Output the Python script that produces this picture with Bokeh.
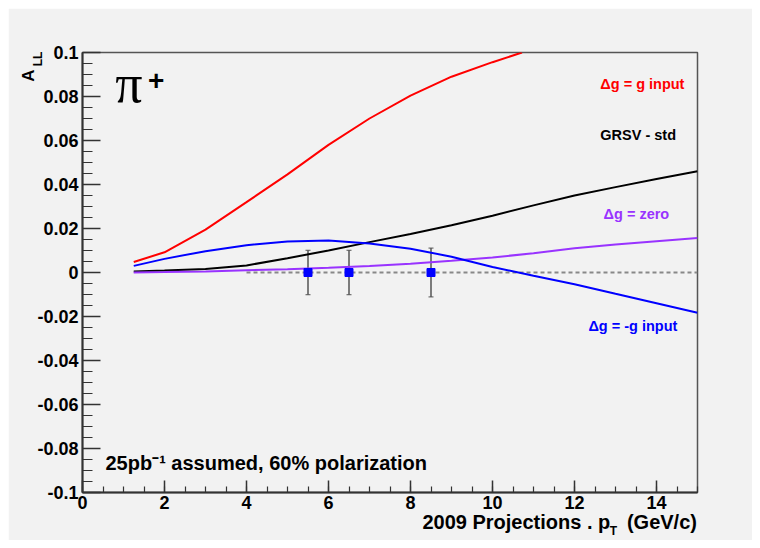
from bokeh.plotting import figure
from bokeh.models import (Range1d, FixedTicker, Label, ColumnDataSource, Whisker, TeeHead)
from bokeh.embed import file_html
from bokeh.resources import INLINE
import numpy as np

# ---------------- data ----------------
red_x = [1.25, 2, 3, 4, 5, 6, 7, 8, 9, 10, 10.72]
red_y = [0.0048, 0.0092, 0.0195, 0.032, 0.0446, 0.058, 0.070, 0.0804, 0.089, 0.0956, 0.1]

pt = [1.25, 2, 3, 4, 5, 6, 7, 8, 9, 10, 11, 12, 13, 14, 15]
black_y = [0.0005, 0.0009, 0.0016, 0.0032, 0.0065, 0.0100, 0.0138, 0.0175, 0.0215,
           0.0258, 0.0305, 0.0350, 0.0388, 0.0425, 0.0460]
blue_y = [0.0030, 0.0062, 0.0097, 0.0124, 0.0141, 0.0146, 0.0132, 0.0108, 0.0072,
          0.0025, -0.0015, -0.0053, -0.0097, -0.0140, -0.0183]
purple_y = [0.0, 0.0002, 0.0005, 0.0010, 0.0015, 0.0022, 0.0030, 0.0040, 0.0053,
            0.0068, 0.0088, 0.0110, 0.0127, 0.0142, 0.0157]

proj_x = [5.5, 6.5, 8.5]
proj_y = [0.0, 0.0, 0.0]
proj_err = [0.0101, 0.0101, 0.0111]

zero_x = [4, 15]
zero_y = [0, 0]

x_ticks = [0, 2, 4, 6, 8, 10, 12, 14]
y_ticks = [-0.1, -0.08, -0.06, -0.04, -0.02, 0, 0.02, 0.04, 0.06, 0.08, 0.1]
y_tick_labels = ["-0.1", "-0.08", "-0.06", "-0.04", "-0.02", "0",
                 "0.02", "0.04", "0.06", "0.08", "0.1"]

RED = "#ff0000"
BLUE = "#0000ff"
PURPLE = "#9933ff"
BG = "#f2f2f2"
FONT = "Liberation Sans"

p = figure(width=744, height=532, output_backend="svg", toolbar_location=None,
           x_range=Range1d(0, 15), y_range=Range1d(-0.1, 0.1),
           min_border_left=74, min_border_right=55, min_border_top=44, min_border_bottom=48)
p.background_fill_color = BG
p.border_fill_color = BG
p.grid.visible = False
p.outline_line_color = "#555555"
p.outline_line_width = 1.5

# axes
for ax in (p.xaxis[0], p.yaxis[0]):
    ax.axis_line_color = "#333333"
    ax.axis_line_width = 2
    ax.major_tick_line_color = "#333333"
    ax.minor_tick_line_color = "#333333"
    ax.major_tick_line_width = 1.5
    ax.minor_tick_line_width = 1.2
    ax.major_tick_out = 0
    ax.minor_tick_out = 0
    ax.major_label_text_font = FONT
    ax.major_label_text_font_style = "bold"
    ax.major_label_text_font_size = "18px"
    ax.major_label_text_color = "black"

p.xaxis.ticker = FixedTicker(ticks=x_ticks, minor_ticks=list(np.arange(0, 15.01, 0.5)))
p.yaxis.ticker = FixedTicker(ticks=y_ticks, minor_ticks=[round(v, 3) for v in np.arange(-0.1, 0.1001, 0.005)])
p.yaxis.major_label_overrides = dict(zip(y_ticks, y_tick_labels))
p.xaxis.major_tick_in = 12
p.xaxis.minor_tick_in = 6
p.yaxis.major_tick_in = 18
p.yaxis.minor_tick_in = 10
p.xaxis.major_label_standoff = 3
p.yaxis.major_label_standoff = 4

# zero reference
p.line(zero_x, zero_y, line_color="#888888", line_width=2, line_dash="4 3")

# curves
p.line(red_x, red_y, line_color=RED, line_width=2)
p.line(pt, black_y, line_color="black", line_width=2)
p.line(pt, purple_y, line_color=PURPLE, line_width=2)
p.line(pt, blue_y, line_color=BLUE, line_width=2)

# projections with error bars
src = ColumnDataSource(dict(x=proj_x, y=proj_y,
                            upper=[y + e for y, e in zip(proj_y, proj_err)],
                            lower=[y - e for y, e in zip(proj_y, proj_err)]))
wh = Whisker(source=src, base="x", upper="upper", lower="lower", dimension="height",
             line_color="#555555", line_width=1.5,
             upper_head=TeeHead(size=5, line_color="#555555", line_width=1),
             lower_head=TeeHead(size=5, line_color="#555555", line_width=1))
p.add_layout(wh)
p.scatter("x", "y", source=src, marker="square", size=8, color=BLUE)

def lab(text, x, y, size, color="black", align="left", baseline="middle",
        font=FONT, style="bold", angle=0, place="center"):
    p.add_layout(Label(x=x, y=y, text=text, text_font=font, text_font_style=style,
                       text_font_size=size, text_color=color, text_align=align,
                       text_baseline=baseline, angle=angle), place)

# legend-like texts
lab("\u0394g = g input", 12.63, 0.0859, "14.5px", RED)
lab("GRSV - std", 12.63, 0.0627, "14.5px", "black")
lab("\u0394g = zero", 12.71, 0.0264, "14.5px", PURPLE)
lab("\u0394g = -g input", 12.34, -0.0245, "14.5px", BLUE)

# pi+
lab("\u03c0", 1.13, 0.0855, "54px", align="center",
    font="Liberation Serif", style="normal")
lab("+", 1.80, 0.0875, "28px", align="center")

# luminosity note
lab("25pb\u207b\u00b9 assumed, 60% polarization", 0.56, -0.0864, "20px")

# y axis title A_LL (rotated)
lab("A", -1.31, 0.0895, "17px", align="center", angle=np.pi / 2, place="left")
lab("LL", -1.085, 0.0971, "12px", align="center", angle=np.pi / 2, place="above")

# x axis title (p with subscript T)
lab("2009 Projections . p\u00a0\u00a0\u00a0(GeV/c)", 8.29, -0.1136, "20px", align="left", place="below")
lab("T", 12.95, -0.1177, "12px", align="center", place="above")

html = file_html(p, INLINE)
html = html.replace("<body>", '<body style="margin:8px;background:#ffffff;">')
open("out.html", "w").write(html)
